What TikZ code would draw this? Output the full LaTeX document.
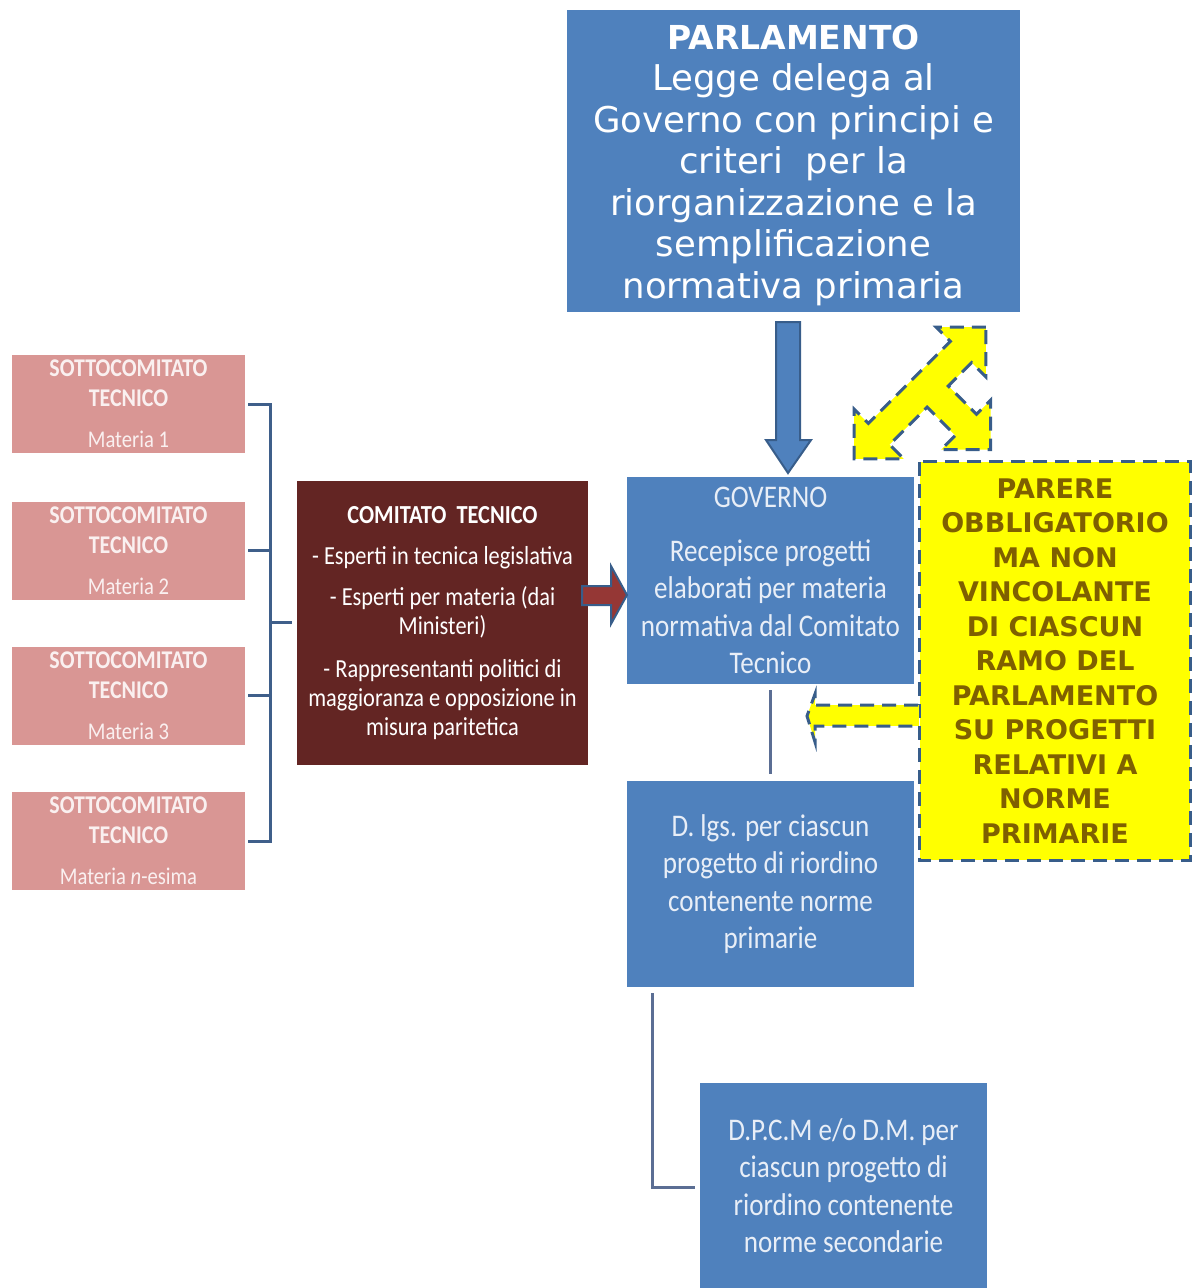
\documentclass[tikz,border=0pt]{standalone}
\usepackage{fontspec}
\setmainfont{DejaVu Sans}
\newfontfamily\condf[FakeStretch=0.86]{Carlito}
\usetikzlibrary{calc}
\definecolor{boxblue}{HTML}{4F81BD}
\definecolor{edgeblue}{HTML}{385D8A}
\definecolor{lighttxt}{HTML}{E8EEF7}
\definecolor{pinkbox}{HTML}{D99694}
\definecolor{pinktxt}{HTML}{FAF0F0}
\definecolor{darkred}{HTML}{632523}
\definecolor{arrowred}{HTML}{953735}
\definecolor{parereyel}{HTML}{FFFF00}
\definecolor{parertxt}{HTML}{7F6000}
\definecolor{brkcol}{HTML}{3F5F8A}
\definecolor{conncol}{HTML}{5B6E94}
\tikzset{
  bluebox/.style={fill=boxblue, draw=none, minimum width=287pt, minimum height=206pt, inner sep=0pt, text=lighttxt, align=center,
    font=\condf\fontsize{31.5}{37.5}\selectfont},
  sottobox/.style={fill=pinkbox, draw=none, minimum width=233pt, minimum height=98pt, inner sep=0pt, text=pinktxt, align=center,
    font=\condf\fontsize{24}{30}\selectfont},
  brk/.style={draw=brkcol, line width=3pt},
  conn/.style={draw=conncol, line width=3pt},
  yeldash/.style={draw=edgeblue, line width=3pt, dash pattern=on 14pt off 8pt},
}
\newcommand{\sthd}[1]{{\bfseries\fontsize{25.5}{30}\selectfont #1}}
\begin{document}
\begin{tikzpicture}[x=1pt,y=-1pt]
\useasboundingbox (0,0) rectangle (1192,1288);

% PARLAMENTO
\node[fill=boxblue, minimum width=453pt, minimum height=302pt, inner sep=0pt, text=white, align=center,
  font=\fontsize{35.5}{41.5}\selectfont] (parl) at (793.5,161) {};
\node[text=white, align=center, inner sep=0pt, font=\fontsize{35.5}{41.5}\selectfont] (parltxt) at ([yshift=-4pt]parl.center)
  {{\bfseries\fontsize{33}{41.5}\selectfont PARLAMENTO}\\Legge delega al\\Governo con principi e\\criteri\ \ per la\\riorganizzazione e la\\semplificazione\\normativa primaria};

% GOVERNO
\node[bluebox, minimum height=207pt] (gov) at (770.5,580.5)
  {GOVERNO\\[16pt]Recepisce progetti\\elaborati per materia\\normativa dal Comitato\\Tecnico};

% D.lgs
\node[bluebox] (dl) at (770.5,884)
  {D. lgs. per ciascun\\progetto di riordino\\contenente norme\\primarie};

% DPCM
\node[bluebox, minimum height=205pt] (dp) at (843.5,1185.5)
  {D.P.C.M e/o D.M. per\\ciascun progetto di\\riordino contenente\\norme secondarie};

% COMITATO TECNICO
\node[fill=darkred, minimum width=291pt, minimum height=284pt, inner sep=0pt, text=white, align=center,
  font=\condf\fontsize{26}{29}\selectfont] (com) at (442.5,623)
  {{\bfseries COMITATO\ \ TECNICO}\\[12pt]- Esperti in tecnica legislativa\\[12pt]- Esperti per materia (dai\\Ministeri)\\[14pt]- Rappresentanti politici di\\maggioranza e opposizione in\\misura paritetica};

% SOTTOCOMITATI
\node[sottobox] (s1) at (128.5,404) {\sthd{SOTTOCOMITATO}\\\sthd{TECNICO}\\[11pt]Materia 1};
\node[sottobox] (s2) at (128.5,550.5) {\sthd{SOTTOCOMITATO}\\\sthd{TECNICO}\\[11pt]Materia 2};
\node[sottobox] (s3) at (128.5,695.5) {\sthd{SOTTOCOMITATO}\\\sthd{TECNICO}\\[11pt]Materia 3};
\node[sottobox] (s4) at (128.5,841) {\sthd{SOTTOCOMITATO}\\\sthd{TECNICO}\\[11pt]Materia \textit{n}-esima};

% bracket
\coordinate (bj) at (270,622);
\draw[brk] ([xshift=3pt]s1.east) -| (bj);
\draw[brk] ([xshift=3pt]s4.east) -| (bj);
\draw[brk] ([xshift=3pt]s2.east) -- (s2.east -| bj);
\draw[brk] ([xshift=3pt]s3.east) -- (s3.east -| bj);
\draw[brk] (bj) -- ([xshift=-5pt]com.west |- bj);

% connectors
\draw[conn] ([yshift=-6pt]gov.south) -- ([yshift=7pt]dl.north);
\draw[conn] ([xshift=26pt,yshift=-6pt]dl.south west) |- ([xshift=-5pt,yshift=-2pt]dp.west);

% blue down arrow
\draw[fill=boxblue, draw=edgeblue, line width=2pt, line join=miter]
  (776,322) -- (800,322) -- (800,440) -- (811,440) -- (788,473) -- (766,440) -- (776,440) -- cycle;

% red arrow
\draw[fill=arrowred, draw=edgeblue, line width=2pt, line join=miter]
  (582,586) -- (611,586) -- (611,566) -- (627,595) -- (611,624) -- (611,605) -- (582,605) -- cycle;

% PARERE
\node[fill=parereyel, minimum width=270pt, minimum height=398pt, inner sep=0pt, text=parertxt, align=center,
  font=\bfseries\fontsize{27}{34.5}\selectfont] (par) at (1055,661)
  {PARERE\\OBBLIGATORIO\\MA NON\\VINCOLANTE\\DI CIASCUN\\RAMO DEL\\PARLAMENTO\\SU PROGETTI\\RELATIVI A\\NORME\\PRIMARIE};
\draw[yeldash] (par.north west) rectangle (par.south east);

% yellow left arrow
\fill[parereyel] (815,705) rectangle (919,726);
\fill[parereyel] (815,694) -- (807,716) -- (815,742) -- cycle;
\draw[yeldash, line join=miter] (918,705) -- (815,705) -- (815,694) -- (807,716) -- (815,742) -- (815,726) -- (918,726);

% yellow three-way arrow
\begin{scope}[shift={(920,393)}, rotate=45, y=-1pt]
\draw[fill=parereyel, yeldash, line join=miter]
  (93,0) -- (58,-35) -- (58,-15) -- (-58,-15) -- (-58,-35) -- (-93,0) -- (-58,35) -- (-58,15)
  -- (-5,15) -- (-5,55) -- (-25,55) -- (10,90) -- (45,55) -- (25,55) -- (25,15)
  -- (58,15) -- (58,35) -- cycle;
\end{scope}
\end{tikzpicture}
\end{document}
